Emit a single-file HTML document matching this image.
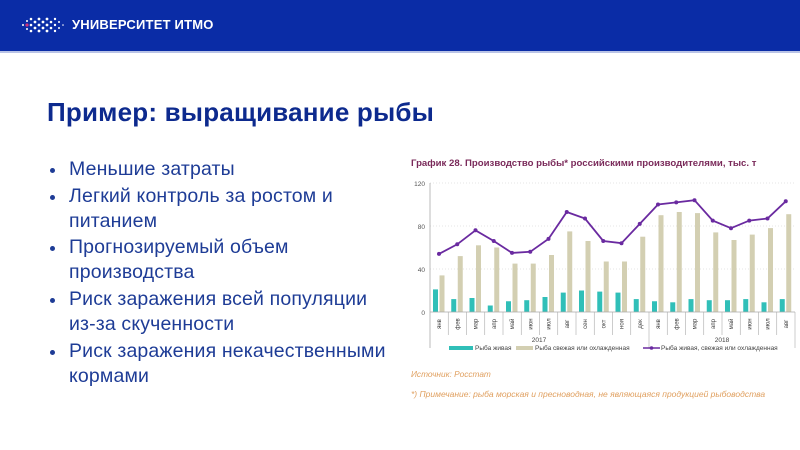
<!DOCTYPE html>
<html><head><meta charset="utf-8"><style>
body{margin:0;width:800px;height:450px;overflow:hidden;background:#fff;font-family:"Liberation Sans",sans-serif;position:relative}
.hdr{position:absolute;left:0;top:0;width:800px;height:51px;background:#0a2ca6}
.hl{position:absolute;left:0;top:51px;width:800px;height:2px;background:#b9c3e6}
.logo{position:absolute;left:72px;top:17px;color:#fff;font-weight:bold;font-size:13px;letter-spacing:0.2px}
h1{position:absolute;left:47px;top:97px;margin:0;font-size:26px;font-weight:bold;color:#0d2a8e;white-space:nowrap;letter-spacing:0.2px}
.t{position:absolute;left:69px;font-size:19.5px;color:#1e3c96;line-height:25px;width:340px;white-space:nowrap;letter-spacing:0.15px}
.b{position:absolute;left:50px;width:5px;height:5px;border-radius:50%;background:#1e3c96}
</style></head><body>
<div class="hdr"></div><div class="hl"></div>
<svg style="position:absolute;left:20px;top:14px" width="46" height="22">
<g fill="#fff">
<circle cx="3" cy="11" r="1"/><circle cx="7" cy="7" r="1"/><circle cx="7" cy="15" r="1"/>
<circle cx="11" cy="5" r="1.3"/><circle cx="11" cy="11" r="1.3"/><circle cx="11" cy="17" r="1.3"/>
<circle cx="15" cy="8" r="1.4"/><circle cx="15" cy="14" r="1.4"/><circle cx="19" cy="5" r="1.4"/><circle cx="19" cy="11" r="1.4"/><circle cx="19" cy="17" r="1.4"/>
<circle cx="23" cy="8" r="1.4"/><circle cx="23" cy="14" r="1.4"/><circle cx="27" cy="5" r="1.4"/><circle cx="27" cy="11" r="1.4"/><circle cx="27" cy="17" r="1.4"/>
<circle cx="31" cy="8" r="1.3"/><circle cx="31" cy="14" r="1.3"/><circle cx="35" cy="5" r="1.2"/><circle cx="35" cy="11" r="1.2"/><circle cx="35" cy="17" r="1.2"/>
<circle cx="39" cy="8" r="1"/><circle cx="39" cy="14" r="1"/><circle cx="43" cy="11" r="0.8"/></g>
<circle cx="7" cy="11" r="1.6" fill="#d0317a"/></svg>
<div class="logo">УНИВЕРСИТЕТ ИТМО</div>
<h1>Пример: выращивание рыбы</h1>
<div class="b" style="top:168px"></div><div class="t" style="top:157px">Меньшие затраты</div>
<div class="b" style="top:195px"></div><div class="t" style="top:184px">Легкий контроль за ростом и<br>питанием</div>
<div class="b" style="top:246px"></div><div class="t" style="top:235px">Прогнозируемый объем<br>производства</div>
<div class="b" style="top:298px"></div><div class="t" style="top:287px">Риск заражения всей популяции<br>из-за скученности</div>
<div class="b" style="top:350px"></div><div class="t" style="top:339px">Риск заражения некачественными<br>кормами</div>

<svg style="position:absolute;left:0;top:0" width="800" height="450" font-family="Liberation Sans, sans-serif">
<text x="411" y="166" font-size="9.6" font-weight="bold" fill="#7a2a5a">График 28. Производство рыбы* российскими производителями, тыс. т</text>
<g stroke="#ddd" stroke-dasharray="1,2" stroke-width="0.8">
<line x1="430" x2="795" y1="183" y2="183"/><line x1="430" x2="795" y1="226" y2="226"/><line x1="430" x2="795" y1="269" y2="269"/></g>
<g font-size="6.5" fill="#555" text-anchor="end"><text x="425" y="186">120</text><text x="425" y="229">80</text><text x="425" y="272">40</text><text x="425" y="315">0</text></g>
<line x1="430" x2="430" y1="183" y2="348" stroke="#aaa" stroke-width="0.8"/>
<g fill="#30bfb8">
<rect x="433" y="289.4" width="5" height="22.6"/><rect x="451.25" y="299.1" width="5" height="12.9"/><rect x="469.5" y="298" width="5" height="14"/><rect x="487.75" y="305.5" width="5" height="6.5"/><rect x="506" y="301.25" width="5" height="10.75"/><rect x="524.25" y="300.2" width="5" height="11.8"/><rect x="542.5" y="297" width="5" height="15"/><rect x="560.75" y="292.6" width="5" height="19.4"/><rect x="579" y="290.5" width="5" height="21.5"/><rect x="597.25" y="291.6" width="5" height="20.4"/><rect x="615.5" y="292.6" width="5" height="19.4"/><rect x="633.75" y="299.1" width="5" height="12.9"/><rect x="652" y="301.25" width="5" height="10.75"/><rect x="670.25" y="302.3" width="5" height="9.7"/><rect x="688.5" y="299.1" width="5" height="12.9"/><rect x="706.75" y="300.2" width="5" height="11.8"/><rect x="725" y="300.2" width="5" height="11.8"/><rect x="743.25" y="299.1" width="5" height="12.9"/><rect x="761.5" y="302.3" width="5" height="9.7"/><rect x="779.75" y="299.1" width="5" height="12.9"/></g>
<g fill="#d3cfb2">
<rect x="439.5" y="275.4" width="5" height="36.6"/><rect x="457.75" y="256.1" width="5" height="55.9"/><rect x="476" y="245.3" width="5" height="66.7"/><rect x="494.25" y="247.5" width="5" height="64.5"/><rect x="512.5" y="263.6" width="5" height="48.4"/><rect x="530.75" y="263.6" width="5" height="48.4"/><rect x="549" y="255" width="5" height="57"/><rect x="567.25" y="231.4" width="5" height="80.6"/><rect x="585.5" y="241" width="5" height="71"/><rect x="603.75" y="261.5" width="5" height="50.5"/><rect x="622" y="261.5" width="5" height="50.5"/><rect x="640.25" y="236.7" width="5" height="75.3"/><rect x="658.5" y="215.2" width="5" height="96.8"/><rect x="676.75" y="212" width="5" height="100"/><rect x="695" y="213.1" width="5" height="98.9"/><rect x="713.25" y="232.4" width="5" height="79.6"/><rect x="731.5" y="240" width="5" height="72"/><rect x="749.75" y="234.6" width="5" height="77.4"/><rect x="768" y="228.1" width="5" height="83.9"/><rect x="786.25" y="214.2" width="5" height="97.8"/></g>
<polyline fill="none" stroke="#6a2aa0" stroke-width="1.8" points="439,253.9 457.25,244.3 475.5,230.3 493.75,241 512,252.9 530.25,251.8 548.5,238.9 566.75,212 585,218.5 603.25,241 621.5,243.2 639.75,223.9 658,204.5 676.25,202.4 694.5,200.2 712.75,220.6 731,228.2 749.25,220.6 767.5,218.5 785.75,201.3"/>
<g fill="#6a2aa0"><circle cx="439" cy="253.9" r="2"/><circle cx="457.25" cy="244.3" r="2"/><circle cx="475.5" cy="230.3" r="2"/><circle cx="493.75" cy="241" r="2"/><circle cx="512" cy="252.9" r="2"/><circle cx="530.25" cy="251.8" r="2"/><circle cx="548.5" cy="238.9" r="2"/><circle cx="566.75" cy="212" r="2"/><circle cx="585" cy="218.5" r="2"/><circle cx="603.25" cy="241" r="2"/><circle cx="621.5" cy="243.2" r="2"/><circle cx="639.75" cy="223.9" r="2"/><circle cx="658" cy="204.5" r="2"/><circle cx="676.25" cy="202.4" r="2"/><circle cx="694.5" cy="200.2" r="2"/><circle cx="712.75" cy="220.6" r="2"/><circle cx="731" cy="228.2" r="2"/><circle cx="749.25" cy="220.6" r="2"/><circle cx="767.5" cy="218.5" r="2"/><circle cx="785.75" cy="201.3" r="2"/></g>
<line x1="430" x2="795" y1="312" y2="312" stroke="#aaa" stroke-width="0.8"/>
<g stroke="#aaa" stroke-width="0.6">
<line x1="448.25" x2="448.25" y1="312" y2="335"/><line x1="466.5" x2="466.5" y1="312" y2="335"/><line x1="484.75" x2="484.75" y1="312" y2="335"/><line x1="503" x2="503" y1="312" y2="335"/><line x1="521.25" x2="521.25" y1="312" y2="335"/><line x1="539.5" x2="539.5" y1="312" y2="335"/><line x1="557.75" x2="557.75" y1="312" y2="335"/><line x1="576" x2="576" y1="312" y2="335"/><line x1="594.25" x2="594.25" y1="312" y2="335"/><line x1="612.5" x2="612.5" y1="312" y2="335"/><line x1="630.75" x2="630.75" y1="312" y2="335"/><line x1="649" x2="649" y1="312" y2="348"/><line x1="667.25" x2="667.25" y1="312" y2="335"/><line x1="685.5" x2="685.5" y1="312" y2="335"/><line x1="703.75" x2="703.75" y1="312" y2="335"/><line x1="722" x2="722" y1="312" y2="335"/><line x1="740.25" x2="740.25" y1="312" y2="335"/><line x1="758.5" x2="758.5" y1="312" y2="335"/><line x1="776.75" x2="776.75" y1="312" y2="335"/><line x1="795" x2="795" y1="312" y2="348"/></g>
<g font-size="6" fill="#444" text-anchor="middle">
<text transform="translate(441,324) rotate(-90)">янв</text><text transform="translate(459.25,324) rotate(-90)">фев</text><text transform="translate(477.5,324) rotate(-90)">мар</text><text transform="translate(495.75,324) rotate(-90)">апр</text><text transform="translate(514,324) rotate(-90)">май</text><text transform="translate(532.25,324) rotate(-90)">июн</text><text transform="translate(550.5,324) rotate(-90)">июл</text><text transform="translate(568.75,324) rotate(-90)">авг</text><text transform="translate(587,324) rotate(-90)">сен</text><text transform="translate(605.25,324) rotate(-90)">окт</text><text transform="translate(623.5,324) rotate(-90)">ноя</text><text transform="translate(641.75,324) rotate(-90)">дек</text><text transform="translate(660,324) rotate(-90)">янв</text><text transform="translate(678.25,324) rotate(-90)">фев</text><text transform="translate(696.5,324) rotate(-90)">мар</text><text transform="translate(714.75,324) rotate(-90)">апр</text><text transform="translate(733,324) rotate(-90)">май</text><text transform="translate(751.25,324) rotate(-90)">июн</text><text transform="translate(769.5,324) rotate(-90)">июл</text><text transform="translate(787.75,324) rotate(-90)">авг</text></g>
<g font-size="6.5" fill="#444" text-anchor="middle"><text x="539" y="342">2017</text><text x="722" y="342">2018</text></g>
<rect x="449" y="346" width="24" height="4" fill="#30bfb8"/>
<text x="475" y="350" font-size="6.5" fill="#444">Рыба живая</text>
<rect x="516" y="346" width="17" height="4" fill="#d3cfb2"/>
<text x="535" y="350" font-size="6.5" fill="#444">Рыба свежая или охлажденная</text>
<line x1="643" x2="660" y1="348" y2="348" stroke="#6a2aa0" stroke-width="1.5"/><circle cx="651.5" cy="348" r="1.8" fill="#6a2aa0"/>
<text x="661" y="350" font-size="6.5" fill="#444">Рыба живая, свежая или охлажденная</text>
<text x="411" y="377" font-size="8.3" font-style="italic" fill="#e0a060">Источник: Росстат</text>
<text x="411" y="397" font-size="8.5" font-style="italic" fill="#e0a060">*) Примечание: рыба морская и пресноводная, не являющаяся продукцией рыбоводства</text>
</svg>
</body></html>
